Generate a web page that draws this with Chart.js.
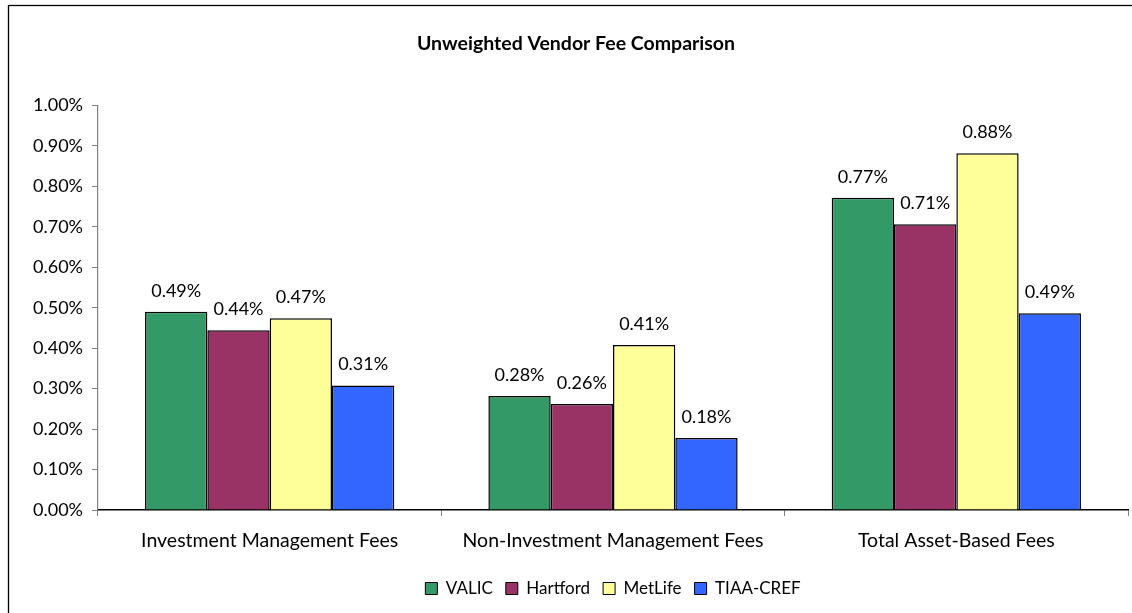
<!DOCTYPE html>
<html>
<head>
<meta charset="utf-8">
<script src="https://cdn.jsdelivr.net/npm/chart.js@4.4.1/dist/chart.umd.min.js"></script>
<style>
html,body{margin:0;padding:0;background:#fff;}
#wrap{position:relative;width:1132px;height:613px;}
</style>
</head>
<body>
<div id="wrap"><canvas id="c" width="1132" height="613"></canvas></div>
<script>
const categories = ['Investment Management Fees', 'Non-Investment Management Fees', 'Total Asset-Based Fees'];
const seriesNames = ['VALIC', 'Hartford', 'MetLife', 'TIAA-CREF'];
const valic = [0.490, 0.282, 0.772];
const hartford = [0.444, 0.262, 0.706];
const metlife = [0.474, 0.408, 0.882];
const tiaaCref = [0.308, 0.178, 0.486];
const yTicks = [0, 0.1, 0.2, 0.3, 0.4, 0.5, 0.6, 0.7, 0.8, 0.9, 1.0];
const colors = ['#339966', '#993366', '#FFFF99', '#3366FF'];

const FONT = 'Lato, "DejaVu Sans", sans-serif';

const frame = {
  id: 'frame',
  beforeDraw(chart) {
    const ctx = chart.ctx;
    ctx.save();
    ctx.fillStyle = '#fff';
    ctx.fillRect(0, 0, chart.width, chart.height);
    ctx.strokeStyle = '#000';
    ctx.lineWidth = 1.3;
    ctx.strokeRect(8.5, 5.5, 1140, 640);
    ctx.restore();
  }
};

const valueLabels = {
  id: 'valueLabels',
  afterDatasetsDraw(chart) {
    const ctx = chart.ctx;
    ctx.save();
    ctx.font = '18px ' + FONT;
    ctx.fillStyle = '#000';
    ctx.textAlign = 'center';
    ctx.textBaseline = 'alphabetic';
    chart.data.datasets.forEach((ds, i) => {
      const meta = chart.getDatasetMeta(i);
      meta.data.forEach((bar, j) => {
        ctx.fillText(ds.data[j].toFixed(2) + '%', bar.x, bar.y - 15);
      });
    });
    ctx.restore();
  }
};

const seriesData = [valic, hartford, metlife, tiaaCref];

new Chart(document.getElementById('c'), {
  type: 'bar',
  data: {
    labels: categories,
    datasets: seriesNames.map((n, i) => ({
      label: n,
      data: seriesData[i],
      backgroundColor: colors[i],
      borderColor: '#000',
      borderWidth: 1.5,
      borderSkipped: 'bottom',
      barPercentage: 1.0,
      categoryPercentage: 0.726
    }))
  },
  options: {
    responsive: false,
    animation: false,
    devicePixelRatio: 1,
    layout: { padding: { left: 24, right: 4, top: 0, bottom: 6 } },
    plugins: {
      title: {
        display: true,
        text: 'Unweighted Vendor Fee Comparison',
        color: '#000',
        font: { family: FONT, size: 19.5, weight: 'bold' },
        padding: { top: 32, bottom: 50 }
      },
      legend: {
        position: 'bottom',
        fullSize: false,
        labels: {
          color: '#000',
          font: { family: FONT, size: 17 },
          boxWidth: 12,
          boxHeight: 12,
          padding: 13,
          generateLabels(chart) {
            return chart.data.datasets.map((ds, i) => ({
              text: ds.label,
              fillStyle: ds.backgroundColor,
              strokeStyle: '#000',
              lineWidth: 1,
              datasetIndex: i,
              fontColor: '#000'
            }));
          }
        }
      },
      tooltip: { enabled: false }
    },
    scales: {
      x: {
        afterFit(s) { s.height = 57; },
        grid: { display: true, drawOnChartArea: false, drawTicks: true, tickLength: 6, color: '#808080', offset: true },
        border: { display: true, color: '#000', width: 1.5 },
        ticks: { color: '#000', font: { family: FONT, size: 19.5 }, padding: 13 }
      },
      y: {
        min: 0,
        max: 1.0,
        afterFit(s) { s.width = 74; },
        afterBuildTicks(s) { s.ticks = yTicks.map(v => ({ value: v })); },
        grid: { display: true, drawOnChartArea: false, drawTicks: true, tickLength: 6, color: '#808080' },
        border: { display: true, color: '#808080', width: 1.2 },
        ticks: {
          color: '#000',
          font: { family: FONT, size: 18 },
          padding: 9,
          callback: v => v.toFixed(2) + '%'
        }
      }
    }
  },
  plugins: [frame, valueLabels]
});
</script>
</body>
</html>
